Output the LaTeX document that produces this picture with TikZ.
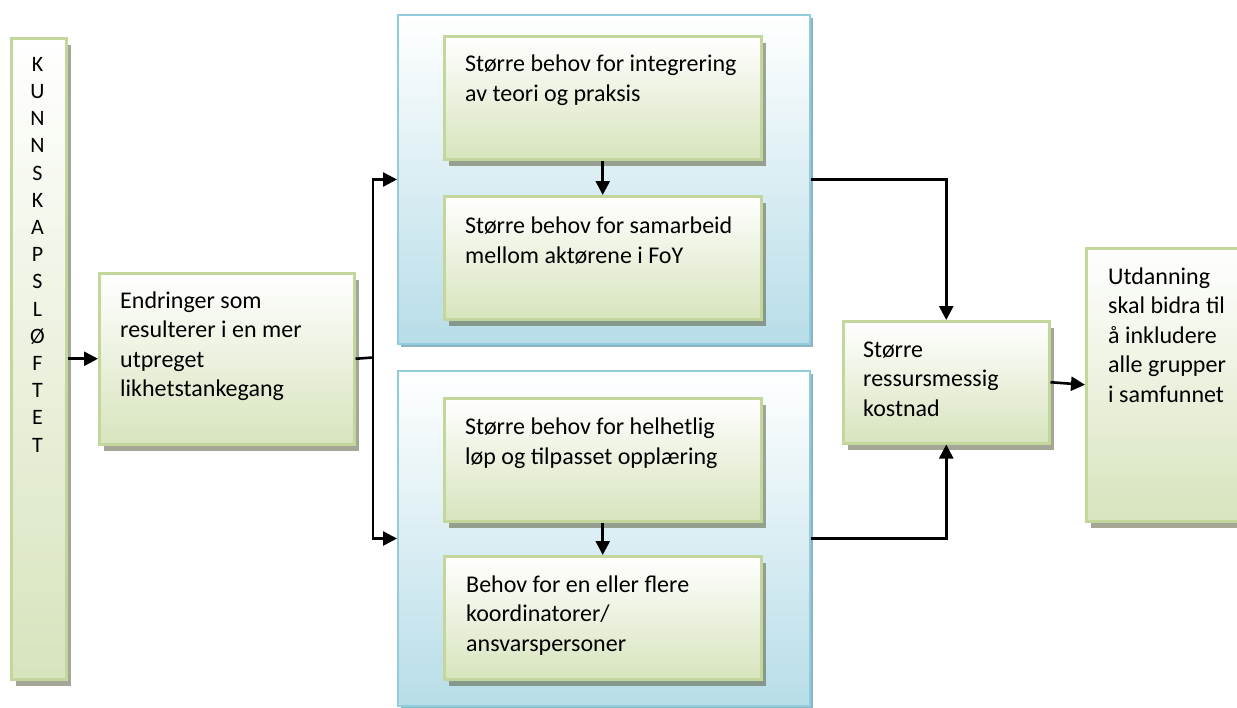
\documentclass[tikz,border=0pt]{standalone}
\usepackage{fontspec}
\setmainfont{Carlito}
\usetikzlibrary{arrows.meta,shadows}
\definecolor{gborder}{HTML}{C3D69B}
\definecolor{gbottom}{HTML}{D7E4BD}
\definecolor{bborder}{HTML}{93CDDD}
\definecolor{bbottom}{HTML}{B7DDE8}
\definecolor{gshadow}{HTML}{5A5F3F}
\definecolor{bshadow}{HTML}{6FA3B3}
\tikzset{
  greenbox/.style={draw=gborder, line width=2.5pt, top color=white, bottom color=gbottom,
    anchor=north west, inner sep=0pt,
    drop shadow={shadow xshift=5pt, shadow yshift=-7pt, fill=gshadow, opacity=0.55}},
  bluebox/.style={draw=bborder, line width=2pt, top color=white, bottom color=bbottom,
    anchor=north west, inner sep=0pt,
    drop shadow={shadow xshift=3pt, shadow yshift=-3pt, fill=bshadow, opacity=0.8}},
  txt/.style={anchor=north west, inner sep=0pt, align=left,
    font=\fontsize{24}{29.5}\selectfont},
  vtxt/.style={anchor=north, inner sep=0pt, align=center,
    font=\fontsize{22}{27.2}\selectfont},
  link/.style={line width=2.6pt, draw=black},
  arr/.style={link, -{Triangle[length=14pt,width=14pt]}}
}
\begin{document}
\begin{tikzpicture}[x=1pt, y=-1pt]
\useasboundingbox (0,0) rectangle (1237,707);

% left column
\node[greenbox, minimum width=55pt, minimum height=641pt] (k) at (10,37) {};
\node[vtxt] (kt) at (37.5,57) {K\\U\\N\\N\\S\\K\\A\\P\\S\\L\\Ø\\F\\T\\E\\T};

\node[greenbox, minimum width=255pt, minimum height=171pt] (e) at (98,272) {};
\node[txt] (et) at (120,291.5) {Endringer som\\resulterer i en mer\\utpreget\\likhetstankegang};

% two groups of needs
\node[bluebox, minimum width=412pt, minimum height=329pt] (ct) at (397,14) {};
\node[bluebox, minimum width=412pt, minimum height=335pt] (cb) at (397,370) {};

\node[greenbox, minimum width=317pt, minimum height=123pt] (i1) at (443,35) {};
\node[txt] (i1t) at (465,55) {Større behov for integrering\\av teori og praksis};
\node[greenbox, minimum width=317pt, minimum height=123pt] (i2) at (443,195) {};
\node[txt] (i2t) at (465,217) {Større behov for samarbeid\\mellom aktørene i FoY};

\node[greenbox, minimum width=317pt, minimum height=123pt] (i3) at (443,397) {};
\node[txt] (i3t) at (465,418) {Større behov for helhetlig\\løp og tilpasset opplæring};
\node[greenbox, minimum width=317pt, minimum height=123pt] (i4) at (443,555) {};
\node[txt] (i4t) at (466,575.5) {Behov for en eller flere\\koordinatorer/\\ansvarspersoner};

% consequences
\node[greenbox, minimum width=206pt, minimum height=122pt] (s) at (842,320) {};
\node[txt] (st) at (863,341.5) {Større\\ressursmessig\\kostnad};

\node[greenbox, minimum width=160pt, minimum height=273pt] (u) at (1085,247) {};
\node[txt] (ut) at (1108,267.5) {Utdanning\\skal bidra til\\å inkludere\\alle grupper\\i samfunnet};

% connectors
\coordinate (j) at (373,357.5);
\draw[arr] (k) -- (e);
\draw[link] (e.east) -- (j);
\draw[arr] (j) |- (ct.west);
\draw[arr] (j) |- (cb.west);
\draw[arr] (i1) -- (i2);
\draw[arr] (i3) -- (i4);
\draw[arr] (ct.east) -| (s.north);
\draw[arr] (cb.east) -| (s.south);
\draw[arr] (s.east) -- (u.west);
\end{tikzpicture}
\end{document}
